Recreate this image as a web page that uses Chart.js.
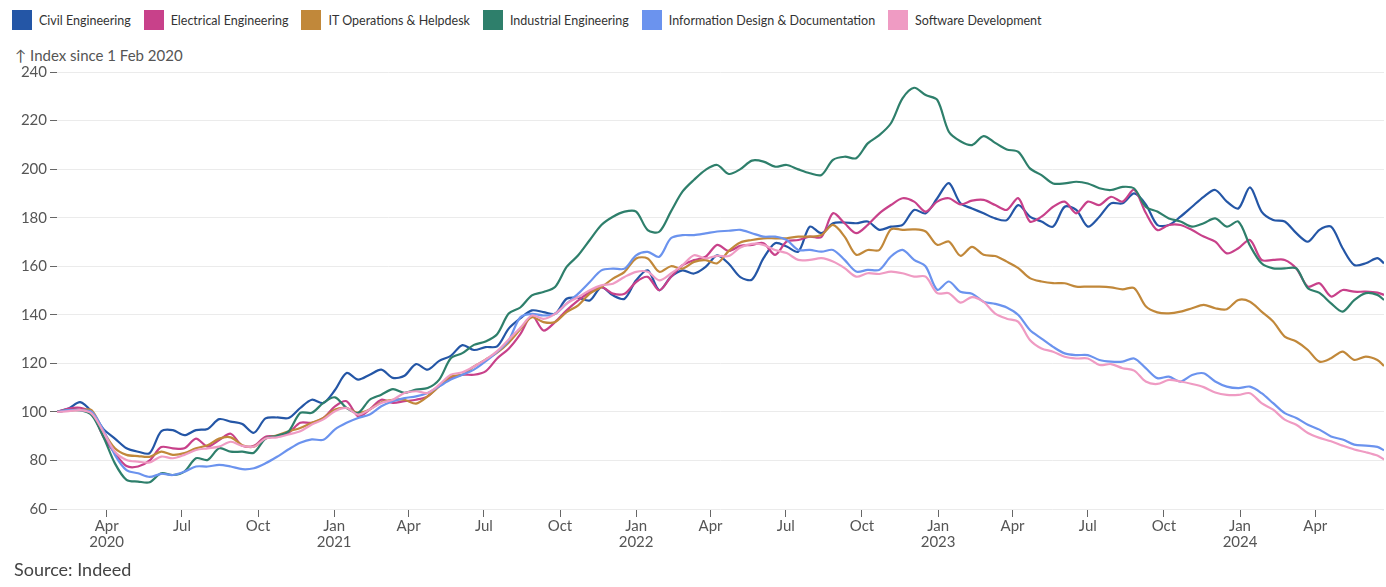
<!DOCTYPE html>
<html>
<head>
<meta charset="utf-8">
<script src="https://cdn.jsdelivr.net/npm/chart.js@4.4.1/dist/chart.umd.min.js"></script>
<style>
  html, body { margin: 0; padding: 0; background: #ffffff; }
  body { width: 1386px; height: 587px; position: relative; overflow: hidden; font-family: Lato, "Open Sans", sans-serif; }
  #legend { position: absolute; left: 12px; top: 10px; display: flex; align-items: center; font-size: 12.5px; color: #333; }
  .item { display: flex; align-items: center; margin-right: 13px; }
  .swatch { width: 20px; height: 20px; margin-right: 7px; }
  #ytitle { position: absolute; left: 15px; top: 46px; font-size: 15px; color: #555; }
  #source { position: absolute; left: 14px; top: 558px; font-size: 18px; color: #444; }
  canvas { position: absolute; left: 0; top: 0; }
</style>
</head>
<body>
<div id="legend"></div>
<div id="ytitle">↑ Index since 1 Feb 2020</div>
<canvas id="c" width="1386" height="587"></canvas>
<div id="source">Source: Indeed</div>
<script>
// Days since 1 Feb 2020
const days = [0,14,28,42,56,70,84,98,112,126,140,154,168,182,196,210,224,238,252,266,
  280,294,308,322,336,350,364,378,392,406,420,434,448,462,476,490,504,518,532,546,560,
  574,588,602,616,630,644,658,672,686,700,714,728,742,756,770,784,798,812,826,840,854,868,882,896,910,924,938,952,966,980,994,
  1008,1022,1036,1050,1064,1078,1092,1106,1120,1134,1148,1162,1176,1190,1204,1218,1232,1246,1260,1274,1288,1302,1316,1330,
  1344,1358,1372,1386,1400,1414,1428,1442,1456,1470,1484,1498,1512,1526,1540,1554,1568,1582,1596,1604];

const seriesNames = ["Civil Engineering","Electrical Engineering","IT Operations & Helpdesk","Industrial Engineering","Information Design & Documentation","Software Development"];

const civil = [100,101.4,104,100,93,89,85,83.6,83,92,92.5,90.4,92.5,93,97,96,95,91.4,97.3,97.7,
  97.5,101.6,105,103.7,109,116,113.3,115.3,117.4,114,114.9,119.7,117.4,121,123.1,127.5,125.5,126.7,127,134.3,138.5,
  141.8,141.1,140.4,146.6,147,145.9,151.4,148,146.6,154.2,158.3,150.1,155.6,158.3,157,159.7,164.5,161,155.5,154.5,163.3,169.5,168.1,166,176.3,173.6,177.7,178,177.7,178.4,175,
  176.3,177,183.2,181.8,188,194.2,185.9,183.8,181.8,179.7,179,185.2,180.4,178.4,176.3,184.5,183.2,176.3,180.4,185.9,185.9,190,185.5,177,
  177,180.4,184.5,188.6,191.4,186.6,183.8,192.5,182.5,179,178.4,173.6,170.1,175,176.3,167.4,160.5,161.2,163.3,161.2];

const electrical = [100,101.4,101.7,99.5,89.8,83,77.7,77.5,80,85.5,85,85,89,85.7,88.4,91,86,86,89.8,90,
  91.4,95.5,95.5,97.5,102.3,104.4,98.2,101,105,103.7,104.4,105,106.4,110.8,113.9,115.3,115.3,116.7,122,126,132,
  139.7,133.5,137,141.8,145.9,149.4,151.4,148.7,148.7,153.5,155.6,150.1,155.6,160.4,162.5,163.9,168.8,166.3,168.4,168.8,169.5,164.7,170.2,170.8,172.2,172,181.8,177.7,173.6,177,181.8,
  185.2,188,186.6,182.5,186.6,188,185.5,187,187.3,185.2,183.2,188,178.4,180.4,184.5,186.6,181.8,186.6,185.2,188.6,186.6,191.5,182,174.9,
  177,177,174.9,172.2,170.1,165.3,167.4,170.8,162.6,162.6,162.6,159.1,151.6,153,147.5,150.2,149.5,149.5,149.1,148.2];

const itOps = [100,100.7,100.7,100.7,92,85,82.3,81.8,81.5,83.6,82.3,83,85,86.3,89,89.5,86.3,85.7,89,90.4,
  92,93.4,95.5,97.5,101,101.6,99.6,101,104,105,105,103.4,106.4,110.5,114.6,115.3,118.7,121.5,124.4,128.5,134,
  139,137,137,141.1,143.9,148.7,151.4,154.9,157.7,163.2,163.2,157.7,160,159,161.8,162.5,161.2,166.3,169.8,170.8,171.5,171.5,171.5,172.2,172.2,172.9,177,172.2,164.7,166.7,166.7,
  175.2,175,175.2,174.3,168.8,170.2,164.3,168,164.7,164.2,161.9,159.2,155.1,153.7,153,153,151.6,151.6,151.6,151.3,150.5,151,143.5,141,
  140.6,141.3,142.7,144.1,142.7,142.3,146.1,145.4,141.3,137.2,131,129,125.5,120.7,122.1,124.8,121.4,122.8,121.4,118.9];

const industrial = [100,100.7,100.7,98.6,89.8,78.8,72,71.3,71,74.7,74,75.4,80.9,80.2,85,83.6,83.6,83.2,89,90.2,
  92,99.6,99.6,103.7,106,101.6,99.6,105,107.1,109.4,107.8,109.2,109.8,113.3,122.1,124.2,127.6,129,132,140.5,143,
  148,149.4,151.4,159.7,164.5,170.8,177,180.4,182.5,182.5,174.9,174.2,182.5,190.7,195.6,199.7,201.7,198,200,203.5,203.1,201,201.7,199.9,198.3,197.6,203.8,205.1,204.5,210.6,214,
  218.9,229.1,233.5,230.5,228.5,215.4,211.5,209.9,213.6,210.8,208.1,207.1,200.3,197.5,194.1,194.1,194.8,194.1,192.1,191.4,192.7,192,184.5,182.5,
  179.7,178.4,176.3,177.7,179.7,176.3,178.4,168.5,161.2,159.1,159.1,159.1,150.9,149,144.7,141.3,146,148.9,148.2,146.1];

const infoDesign = [100,100.7,100.7,100,92.5,82.3,76,74.7,73.2,74.5,74,75.4,77.5,77.5,78.2,77.5,76.4,76.8,78.8,81.5,
  84.6,87.3,88.7,88.5,92.8,95.5,97.5,98.9,102.3,104.4,105.7,106.4,107.8,110.5,113.3,115.3,117.4,120.8,124.7,129.5,139,
  140.4,139.7,140.4,144.6,148.7,153.5,158.3,159,159,164.5,165.9,163.9,171.5,172.8,172.8,173.5,174.3,174.6,175,173.6,172.2,172.2,170.8,166.7,166.7,166,166.7,162.6,157.8,158.5,158.5,
  164,166.7,162.6,159.9,150.3,153.7,149.5,148.7,145.4,144.5,143,139.9,133.7,130.2,126.8,124.1,123.4,123.4,121.4,120.7,120.7,122,118,113.9,
  114.5,112.5,115.2,115.9,112.5,110.4,109.8,110.4,107.7,103.6,99.5,97.5,94.7,92.7,89.9,88.6,86.5,86.1,85.6,84.2];

const software = [100,100.3,100.7,99.3,91.8,83.6,80.2,79.5,79.2,81.6,80.9,82.3,84.3,85,85.7,87.7,86,85.7,89,89.5,
  90.7,92,94.8,96.9,100.3,101.6,98.9,101,103.7,105,107.8,108.5,107.8,111.2,115.3,116.3,118.7,121.5,125,129.8,134.6,
  139.7,138.3,140.4,144.6,147.3,150.1,152.1,152.8,155.6,157.7,157.7,154.2,157,160.4,164.5,163.2,164.3,164.2,167.7,169.2,168.8,166.7,165.4,162.6,162.6,163.3,161.9,159.2,155.7,157.1,156.8,
  157.8,157.1,155.7,155.7,148.9,148.9,145,147.3,145.3,140.5,138.4,137.1,129.6,126.1,124.8,122.7,122,122,119.3,119.7,118,117,112.5,111.5,
  113.2,112.5,111.5,110.2,108,107,107,107.7,103.6,100.9,96.8,94.7,91.3,89.3,87.9,86.1,84.5,83.4,82,80.4];

const seriesColors = ["#2456a6","#c8418a","#c1883a","#2e7f6b","#6b93ee","#ef9bc3"];

const tickDays = [60,151,243,335,425,516,608,700,790,881,973,1065,1155,1246,1338,1430,1521];
const tickLabels = [["Apr","2020"],"Jul","Oct",["Jan","2021"],"Apr","Jul","Oct",["Jan","2022"],"Apr","Jul","Oct",["Jan","2023"],"Apr","Jul","Oct",["Jan","2024"],"Apr"];
const yTicks = [60,80,100,120,140,160,180,200,220,240];

const allSeries = [civil, electrical, itOps, industrial, infoDesign, software];

// HTML legend
const legendEl = document.getElementById('legend');
seriesNames.forEach((n, i) => {
  const it = document.createElement('div'); it.className = 'item';
  const sw = document.createElement('div'); sw.className = 'swatch'; sw.style.background = seriesColors[i];
  const tx = document.createElement('span'); tx.textContent = n;
  it.appendChild(sw); it.appendChild(tx); legendEl.appendChild(it);
});

const datasets = allSeries.map((arr, i) => ({
  label: seriesNames[i],
  data: arr.map((v, j) => ({x: days[j], y: v})),
  borderColor: seriesColors[i],
  backgroundColor: seriesColors[i],
  borderWidth: 2.2,
  pointRadius: 0,
  tension: 0.3,
  fill: false,
  order: allSeries.length - i
}));

new Chart(document.getElementById('c'), {
  type: 'line',
  data: { datasets },
  options: {
    responsive: false,
    animation: false,
    layout: { padding: { top: 72, right: 2, bottom: 0, left: 0 } },
    plugins: { legend: { display: false }, tooltip: { enabled: false } },
    scales: {
      x: {
        type: 'linear',
        min: 0, max: 1604,
        border: { display: false },
        grid: { drawOnChartArea: false, drawTicks: true, tickLength: 8, tickColor: '#666', lineWidth: 1 },
        afterBuildTicks: (ax) => { ax.ticks = tickDays.map(v => ({ value: v })); },
        afterFit: (ax) => { ax.height = 78; },
        ticks: {
          autoSkip: false, maxRotation: 0, padding: 1,
          color: '#555', font: { family: 'Lato', size: 15, lineHeight: 1.07 },
          callback: (v, idx) => tickLabels[idx]
        }
      },
      y: {
        min: 60, max: 240,
        border: { display: false },
        afterBuildTicks: (ax) => { ax.ticks = yTicks.map(v => ({ value: v })); },
        afterFit: (ax) => { ax.width = 57; },
        grid: { color: '#ebebeb', lineWidth: 1, drawTicks: true, tickLength: 7, tickColor: '#666' },
        ticks: { padding: 3, color: '#555', font: { family: 'Lato', size: 15 } }
      }
    }
  }
});
</script>
</body>
</html>
